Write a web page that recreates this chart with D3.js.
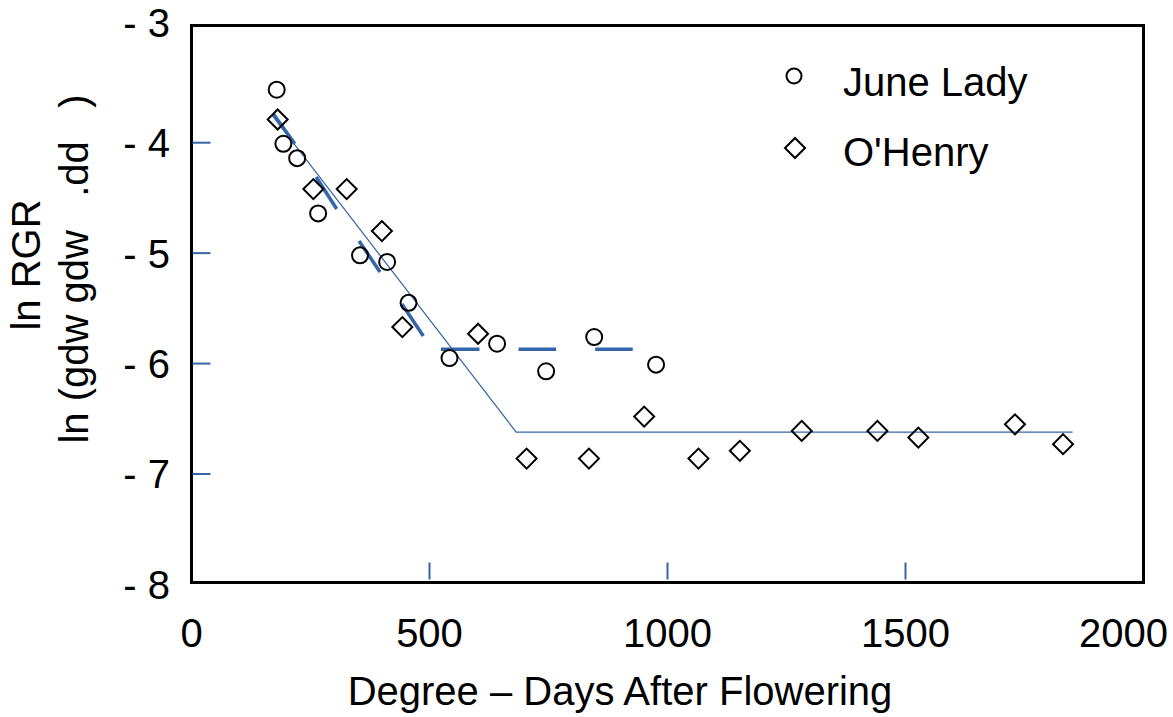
<!DOCTYPE html>
<html>
<head>
<meta charset="utf-8">
<script src="https://cdn.jsdelivr.net/npm/d3@7"></script>
<style>
  body { margin: 0; background: #fff; }
  text { font-family: "Liberation Sans", Arial, sans-serif; fill: #000; }
</style>
</head>
<body>
<svg id="chart" width="1173" height="717"></svg>
<script>
// June Lady: degree-days after flowering and ln RGR
const juneLadyDD  = [179, 193, 222, 266, 354, 411, 456, 542, 642, 745, 846, 976];
const juneLadyRGR = [-3.52, -4.01, -4.14, -4.64, -5.02, -5.08, -5.45, -5.95, -5.82, -6.07, -5.76, -6.01];

// O'Henry: degree-days after flowering and ln RGR
const oHenryDD  = [181, 256, 326, 400, 443, 602, 704, 835, 951, 1065, 1152, 1282, 1441, 1527, 1730, 1831];
const oHenryRGR = [-3.79, -4.42, -4.42, -4.80, -5.67, -5.73, -6.86, -6.86, -6.48, -6.86, -6.79, -6.61, -6.61, -6.67, -6.55, -6.73];

// Broken-stick fit: linear decline, then plateau
const fitDD  = [169, 682, 1851];
const fitRGR = [-3.75, -6.62, -6.62];

// Short slope segments along the curve
const slopeStartDD  = [172, 262, 352, 442, 524, 687, 848];
const slopeEndDD    = [217, 305, 396, 487, 605, 766, 927];
const slopeStartRGR = [-3.74, -4.31, -4.89, -5.46, -5.87, -5.87, -5.87];
const slopeEndRGR   = [-4.01, -4.60, -5.17, -5.75, -5.87, -5.87, -5.87];

// Axes
const xTickValues = [0, 500, 1000, 1500, 2000];
const xTickLabels = ["0", "500", "1000", "1500", "2000"];
const yTickValues = [-3, -4, -5, -6, -7, -8];
const yTickLabels = ["- 3", "- 4", "- 5", "- 6", "- 7", "- 8"];
const xInnerTicks = [500, 1000, 1500];
const yInnerTicks = [-4, -5, -6, -7];

const seriesNames = ["June Lady", "O'Henry"];
const xTitle = "Degree \u2013 Days After Flowering";
const yTitle1 = "ln RGR";
const yTitle2 = "ln (gdw gdw   .dd   )";

const W = 1173;
const fontSize = 40;
const blue = "#3465a9";
const frame = { left: 191.5, right: 1143.5, top: 25.5, bottom: 582.5 };

const svg = d3.select("#chart");

const x = d3.scaleLinear().domain([0, 2000]).range([frame.left, frame.right]);
const y = d3.scaleLinear().domain([-4, -7]).range([142.7, 474]);

// Plot frame
svg.append("rect")
  .attr("x", frame.left).attr("y", frame.top)
  .attr("width", frame.right - frame.left).attr("height", frame.bottom - frame.top)
  .attr("fill", "none").attr("stroke", "#000").attr("stroke-width", 3);

// Inner tick marks
svg.append("g").selectAll("line").data(yInnerTicks).join("line")
  .attr("x1", frame.left + 1).attr("x2", frame.left + 19)
  .attr("y1", d => y(d)).attr("y2", d => y(d))
  .attr("stroke", blue).attr("stroke-width", 2);
svg.append("g").selectAll("line").data(xInnerTicks).join("line")
  .attr("x1", d => x(d)).attr("x2", d => x(d))
  .attr("y1", frame.bottom - 3).attr("y2", frame.bottom - 20)
  .attr("stroke", blue).attr("stroke-width", 2);

// Tick labels (the top label sits level with the frame edge)
svg.append("g").selectAll("text").data(yTickValues).join("text")
  .attr("x", 170)
  .attr("y", d => (y(d) < frame.top + 10 ? frame.top - 3 : y(d)))
  .attr("dy", "0.36em")
  .attr("text-anchor", "end")
  .attr("font-size", fontSize)
  .text((d, i) => yTickLabels[i]);

// x labels centred on their value, kept inside the page
svg.append("g").selectAll("text").data(xTickValues).join("text")
  .attr("y", 647)
  .attr("text-anchor", "middle")
  .attr("font-size", fontSize)
  .text((d, i) => xTickLabels[i])
  .attr("x", function (d) {
    const half = this.getComputedTextLength() / 2;
    return Math.min(x(d), W - 5 - half);
  });

// Axis titles
svg.append("text")
  .attr("x", 620).attr("y", 705)
  .attr("text-anchor", "middle").attr("font-size", fontSize)
  .text(xTitle);
svg.append("text")
  .attr("transform", "translate(40,265) rotate(-90)")
  .attr("text-anchor", "middle").attr("font-size", fontSize)
  .text(yTitle1);
svg.append("text")
  .attr("transform", "translate(88,269) rotate(-90)")
  .attr("text-anchor", "middle").attr("font-size", fontSize)
  .style("white-space", "pre")
  .text(yTitle2);

// Fitted line
const fitData = fitDD.map((d, i) => [d, fitRGR[i]]);
svg.append("path")
  .datum(fitData)
  .attr("d", d3.line().x(d => x(d[0])).y(d => y(d[1])))
  .attr("fill", "none").attr("stroke", blue).attr("stroke-width", 1.2);

// Slope segments
const segData = slopeStartDD.map((d, i) => ({ x0: d, x1: slopeEndDD[i], y0: slopeStartRGR[i], y1: slopeEndRGR[i] }));
svg.append("g").selectAll("line").data(segData).join("line")
  .attr("x1", d => x(d.x0)).attr("x2", d => x(d.x1))
  .attr("y1", d => y(d.y0)).attr("y2", d => y(d.y1))
  .attr("stroke", blue).attr("stroke-width", 3.5);

// Markers
const diamond = d3.symbol(d3.symbolSquare, 200)();
const jl = juneLadyDD.map((d, i) => [d, juneLadyRGR[i]]);
const oh = oHenryDD.map((d, i) => [d, oHenryRGR[i]]);

svg.append("g").selectAll("circle").data(jl).join("circle")
  .attr("cx", d => x(d[0])).attr("cy", d => y(d[1])).attr("r", 8)
  .attr("fill", "none").attr("stroke", "#000").attr("stroke-width", 2);

svg.append("g").selectAll("path").data(oh).join("path")
  .attr("d", diamond)
  .attr("transform", d => `translate(${x(d[0])},${y(d[1])}) rotate(45)`)
  .attr("fill", "none").attr("stroke", "#000").attr("stroke-width", 2);

// Legend
const legend = svg.append("g");
legend.append("circle").attr("cx", 794).attr("cy", 76).attr("r", 7.5)
  .attr("fill", "none").attr("stroke", "#000").attr("stroke-width", 2);
legend.append("path").attr("d", diamond)
  .attr("transform", "translate(795,148) rotate(45)")
  .attr("fill", "none").attr("stroke", "#000").attr("stroke-width", 2);
legend.append("text").attr("x", 843).attr("y", 96).attr("font-size", fontSize).text(seriesNames[0]);
legend.append("text").attr("x", 843).attr("y", 166).attr("font-size", fontSize).text(seriesNames[1]);
</script>
</body>
</html>
